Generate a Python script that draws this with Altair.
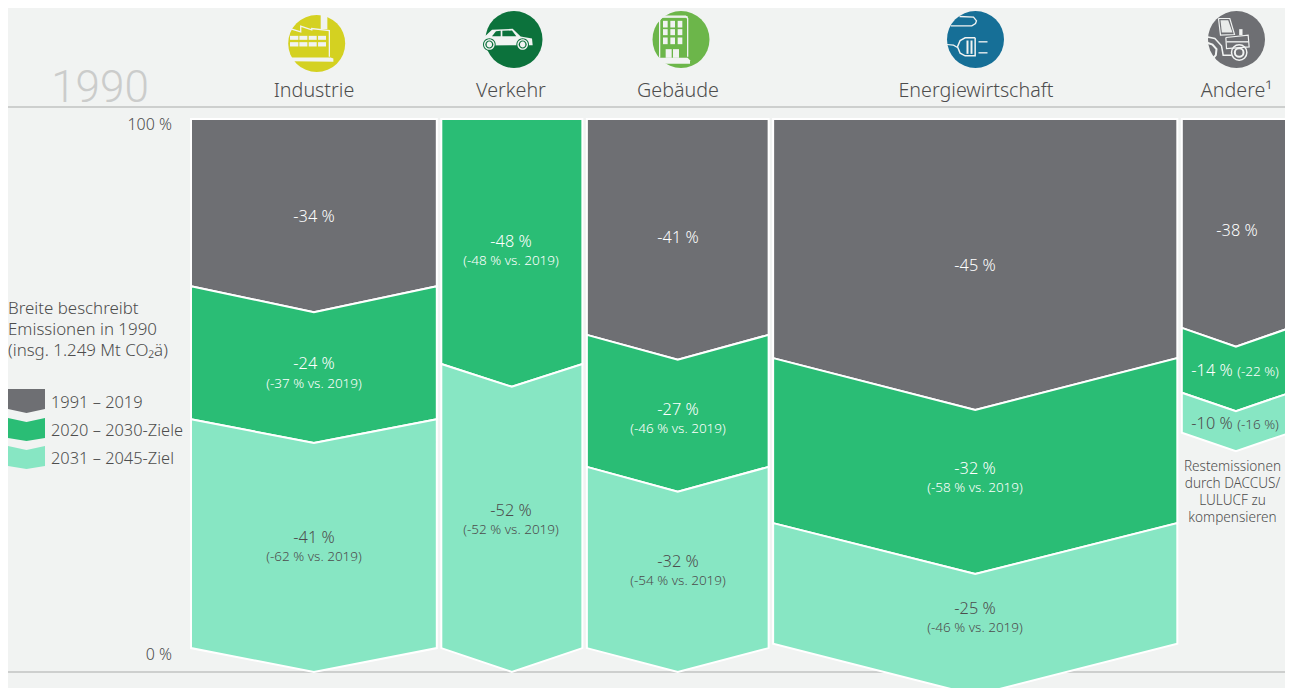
import altair as alt
import pandas as pd

# ---- data -------------------------------------------------------------
sectors = ["Industrie", "Verkehr", "Gebäude", "Energiewirtschaft", "Andere¹"]
emissions_1990 = [284, 163, 210, 467, 125]          # Mt CO2e, drive the column widths
periods = ["1991 – 2019", "2020 – 2030-Ziele", "2031 – 2045-Ziel"]

# boundary of every chevron in %
seg_sector = [0, 0, 0, 1, 1, 2, 2, 2, 3, 3, 3, 4, 4, 4]
seg_period = [0, 1, 2, 1, 2, 0, 1, 2, 0, 1, 2, 0, 1, 2]
top_edge = [100, 69.1, 44.5, 100, 54.7, 100, 60.1, 35.7, 100, 55.8, 25.3, 100, 61.4, 49.4]
top_mid = [100, 64.3, 40.1, 100, 50.5, 100, 55.5, 31.1, 100, 46.2, 15.9, 100, 57.9, 46.0]
bot_edge = [69.1, 44.5, 2.2, 54.7, 2.2, 60.1, 35.7, 2.2, 55.8, 25.3, 3.0, 61.4, 49.4, 42.0]
bot_mid = [64.3, 40.1, -2.2, 50.5, -2.2, 55.5, 31.1, -2.2, 46.2, 15.9, -6.5, 57.9, 46.0, 38.6]

BG = "#f1f3f2"
GREY, GREEN, MINT = "#6e6f73", "#2abd75", "#87e6c3"
PERIOD_COL = [GREY, GREEN, MINT]
TXT = "#4d4d4d"
FONT = "Noto Sans"

# ---- scales: page pixels <-> data units --------------------------------
W, H = 1277, 680
K = 0.8655  # px per Mt
PY = 5.41   # px per %
GAP = 5.2   # Mt


def X(px):
    return (px - 191) / K


def Y(py):
    return (660 - py) / PY


xs = alt.Scale(domain=[X(8), X(8 + W)], range=[0, W], nice=False, zero=False)
ys = alt.Scale(domain=[Y(8 + H), Y(8)], range=[H, 0], nice=False, zero=False)
enc_x = alt.X("x:Q", scale=xs, axis=None)
enc_y = alt.Y("y:Q", scale=ys, axis=None)

starts, pos = [], 0.0
for w in emissions_1990:
    starts.append(pos)
    pos += w + GAP

area_layers = []
for i, (s, p) in enumerate(zip(seg_sector, seg_period)):
    x0 = starts[s]
    w = emissions_1990[s]
    d = pd.DataFrame(dict(x=[x0, x0 + w / 2, x0 + w],
                          y=[top_edge[i], top_mid[i], top_edge[i]],
                          y2=[bot_edge[i], bot_mid[i], bot_edge[i]]))
    area_layers.append(alt.Chart(d).mark_area(
        stroke="white", strokeWidth=2, fill=PERIOD_COL[p], opacity=1, orient="vertical"
    ).encode(x=enc_x, y=enc_y, y2="y2:Q"))

# legend swatches
leg_top_e = [389, 418, 446]
leg_top_m = [389, 422, 450]
leg_bot_e = [409, 438, 466]
leg_bot_m = [413, 441, 469]
for i in range(3):
    d = pd.DataFrame(dict(x=[X(8), X(26.5), X(45)],
                          y=[Y(leg_top_e[i]), Y(leg_top_m[i]), Y(leg_top_e[i])],
                          y2=[Y(leg_bot_e[i]), Y(leg_bot_m[i]), Y(leg_bot_e[i])]))
    area_layers.append(alt.Chart(d).mark_area(fill=PERIOD_COL[i], opacity=1, orient="vertical").encode(
        x=enc_x, y=enc_y, y2="y2:Q"))

# rules
rules = alt.Chart(pd.DataFrame(dict(x=[X(8), X(8)], x2=[X(1289), X(1289)], y=[Y(107), Y(672)]))).mark_rule(
    color="#a9abaa", strokeWidth=1).encode(x=enc_x, x2="x2:Q", y=enc_y)

# ---- text ---------------------------------------------------------------
texts = []


def T(t, px, py, size, col=TXT, align="center"):
    texts.append(dict(t=t, x=X(px), y=Y(py + 1.2), size=size, col=col, align=align))


header_x = [314, 511, 678, 976, 1236.5]
for n, px in zip(sectors, header_x):
    T(n, px, 90, 19.7)
T("100 %", 172, 124, 16, align="right")
T("0 %", 172, 654, 16, align="right")
for s, py in zip(["Breite beschreibt", "Emissionen in 1990", "(insg. 1.249 Mt CO₂ä)"], [308, 329, 350]):
    T(s, 8, py, 16.9, align="left")
for s, py in zip(periods, [402, 430, 458]):
    T(s, 51, py, 16.4, align="left")
main_labels = [
    ("-34 %", 314, 216, "white"), ("-24 %", 314, 363, "white"), ("-41 %", 314, 537, TXT),
    ("-48 %", 511, 241, "white"), ("-52 %", 511, 510, TXT),
    ("-41 %", 678, 237, "white"), ("-27 %", 678, 409, "white"), ("-32 %", 678, 561, TXT),
    ("-45 %", 975, 265, "white"), ("-32 %", 975, 468, "white"), ("-25 %", 975, 608, TXT),
    ("-38 %", 1237, 230, "white"), ("-14 %", 1212, 370, "white"), ("-10 %", 1212, 423, TXT),
]
for t, px, py, c in main_labels:
    T(t, px, py, 16.3, c)
sub_labels = [
    ("(-37 % vs. 2019)", 314, 383, "white"), ("(-62 % vs. 2019)", 314, 556, TXT),
    ("(-48 % vs. 2019)", 511, 260, "white"), ("(-52 % vs. 2019)", 511, 529, TXT),
    ("(-46 % vs. 2019)", 678, 428, "white"), ("(-54 % vs. 2019)", 678, 580, TXT),
    ("(-58 % vs. 2019)", 975, 487, "white"), ("(-46 % vs. 2019)", 975, 627, TXT),
    ("(-22 %)", 1258, 371, "white"), ("(-16 %)", 1258, 424, TXT),
]
for t, px, py, c in sub_labels:
    T(t, px, py, 13.5, c)
# the page's right margin cuts at x=1285: this note is kept just inside it
for s, py in zip(["Restemissionen", "durch DACCUS/", "LULUCF zu", "kompensieren"], [466, 483, 500, 517]):
    T(s, 1232.5, py, 13.6)
tdf = pd.DataFrame(texts)
text_layers = []
for al in ["left", "center", "right"]:
    text_layers.append(
        alt.Chart(tdf[tdf["align"] == al]).mark_text(align=al, baseline="middle", font=FONT, fontWeight=300).encode(
            x=enc_x, y=enc_y, text="t:N",
            color=alt.Color("col:N", scale=None),
            size=alt.Size("size:Q", scale=None)))
year = alt.Chart(pd.DataFrame(dict(x=[X(100)], y=[Y(89)], t=["1990"]))).mark_text(
    align="center", baseline="middle", font="Roboto", fontWeight=300, fontSize=44, color="#cbcccb").encode(
    x=enc_x, y=enc_y, text="t:N")

# ---- icons ---------------------------------------------------------------
R = 85.5  # radius in the coordinates the icon parts are written in


def poly(pts, c, close=True):
    s = "M" + " L".join(f"{(x - c[0]) / R:.3f} {(y - c[1]) / R:.3f}" for x, y in pts)
    return s + (" Z" if close else "")


def rect(x0, y0, x1, y1, c):
    return poly([(x0, y0), (x1, y0), (x1, y1), (x0, y1)], c)


def circ(x, y, r, c):
    a, b = (x - c[0]) / R, (y - c[1]) / R
    q = r / R
    return f"M{a - q:.3f} {b:.3f} A{q:.3f} {q:.3f} 0 1 0 {a + q:.3f} {b:.3f} A{q:.3f} {q:.3f} 0 1 0 {a - q:.3f} {b:.3f} Z"


ICON_SIZE = 4 * 28.5 ** 2
icon_layers = []


def part(px, py, path, fill=None, stroke=None, sw=1.3):
    kw = dict(shape=path, size=ICON_SIZE, opacity=1)
    if fill:
        kw.update(filled=True, fill=fill, strokeWidth=0)
    else:
        kw.update(filled=False, stroke=stroke, strokeWidth=sw, fillOpacity=0)
    icon_layers.append(alt.Chart(pd.DataFrame(dict(x=[X(px)], y=[Y(py)]))).mark_point(**kw).encode(x=enc_x, y=enc_y))


def disc(px, py, col):
    icon_layers.append(alt.Chart(pd.DataFrame(dict(x=[X(px)], y=[Y(py)]))).mark_point(
        shape="circle", size=ICON_SIZE, filled=True, fill=col, strokeWidth=0, opacity=1).encode(x=enc_x, y=enc_y))


# Industrie
c = (140, 115); ox, oy = 316.7, 43.5
disc(ox, oy, "#d4d121")
part(ox, oy, rect(152, 20, 172, 72, c), BG)
part(ox, oy, poly([(60, 70), (92, 80), (92, 63), (125, 74), (125, 70), (178, 76), (178, 155)], c, False), stroke=BG, sw=1.3)
for x0, x1 in [(60, 85), (88, 112), (116, 140), (144, 168)]:
    for y0, y1 in [(92, 104), (111, 124)]:
        part(ox, oy, rect(x0, y0, x1, y1, c), BG)
part(ox, oy, poly([(60, 157), (182, 157), (190, 160), (190, 170), (65, 168)], c), BG)

# Verkehr
c = (132, 103); ox, oy = 514, 39.5
disc(ox, oy, "#0c723c")
part(ox, oy, poly([(45, 93), (66, 74), (128, 71), (152, 94), (186, 100), (188, 120), (45, 121)], c), BG)
part(ox, oy, poly([(66, 93), (78, 78), (92, 77), (92, 93)], c), "#0c723c")
part(ox, oy, poly([(97, 77), (126, 76), (139, 93), (97, 93)], c), "#0c723c")
for wx in (58, 158):
    part(ox, oy, circ(wx, 118, 19, c), "#0c723c")
    part(ox, oy, circ(wx, 118, 16, c), BG)
    part(ox, oy, circ(wx, 118, 12, c), "#0c723c")
    part(ox, oy, circ(wx, 118, 8, c), BG)

# Gebäude
c = (138, 103); ox, oy = 681, 39.5
disc(ox, oy, "#6cb64a")
part(ox, oy, poly([(74, 158), (74, 45), (82, 33), (152, 33), (158, 40), (158, 155)], c, False), stroke=BG, sw=1.3)
part(ox, oy, rect(82, 33, 158, 38, c), BG)
for x0, x1 in [(84, 98), (106, 120), (128, 142)]:
    for y0, y1 in [(47, 67), (72, 90), (97, 117)]:
        part(ox, oy, rect(x0, y0, x1, y1, c), BG)
part(ox, oy, rect(92, 132, 110, 158, c), BG)
part(ox, oy, rect(114, 132, 132, 158, c), BG)
part(ox, oy, poly([(60, 158), (158, 158), (165, 165), (165, 176), (90, 176)], c), BG)

# Energiewirtschaft
c = (136, 103); ox, oy = 975.5, 39.5
disc(ox, oy, "#166f97")
part(ox, oy, poly([(62, 62), (125, 62), (136, 55), (139, 47), (130, 36), (88, 34)], c, False), stroke=BG, sw=1.3)
part(ox, oy, poly([(135, 98), (105, 98), (90, 106), (82, 125), (90, 144), (105, 152), (135, 152), (135, 98)], c, False), stroke=BG, sw=1.5)
part(ox, oy, rect(109, 106, 115, 146, c), BG)
part(ox, oy, rect(121, 106, 127, 146, c), BG)
part(ox, oy, rect(145, 108, 172, 112, c), BG)
part(ox, oy, rect(145, 141, 172, 145, c), BG)
part(ox, oy, poly([(50, 118), (70, 120), (82, 127)], c, False), stroke=BG, sw=1.2)

# Andere
c = (140, 103); ox, oy = 1236.5, 39.5
disc(ox, oy, GREY)
part(ox, oy, poly([(92, 45), (115, 45), (128, 82), (96, 82)], c), "#e9ebea")
part(ox, oy, poly([(86, 40), (120, 40), (134, 88), (92, 90), (86, 40)], c, False), stroke=BG, sw=1.2)
part(ox, oy, poly([(108, 97), (175, 90), (178, 125), (110, 130), (108, 97)], c, False), stroke=BG, sw=1.2)
part(ox, oy, rect(110, 108, 176, 112, c), BG)
part(ox, oy, rect(148, 72, 158, 90, c), BG)
part(ox, oy, circ(148, 142, 23, c), stroke=BG, sw=1.5)
part(ox, oy, circ(148, 142, 13, c), stroke=BG, sw=2)
part(ox, oy, poly([(50, 95), (75, 100), (95, 122), (100, 150), (125, 150)], c, False), stroke=BG, sw=1.5)
part(ox, oy, poly([(50, 112), (68, 118), (80, 132), (78, 150), (65, 165), (50, 170)], c, False), stroke=BG, sw=2)

chart = alt.layer(rules, *area_layers, year, *text_layers, *icon_layers).properties(
    width=W, height=H, padding=0, autosize=alt.AutoSizeParams(type="none"), background=BG
).configure_view(stroke=None)

chart.save("out.html", embed_options={"renderer": "svg", "actions": False})
